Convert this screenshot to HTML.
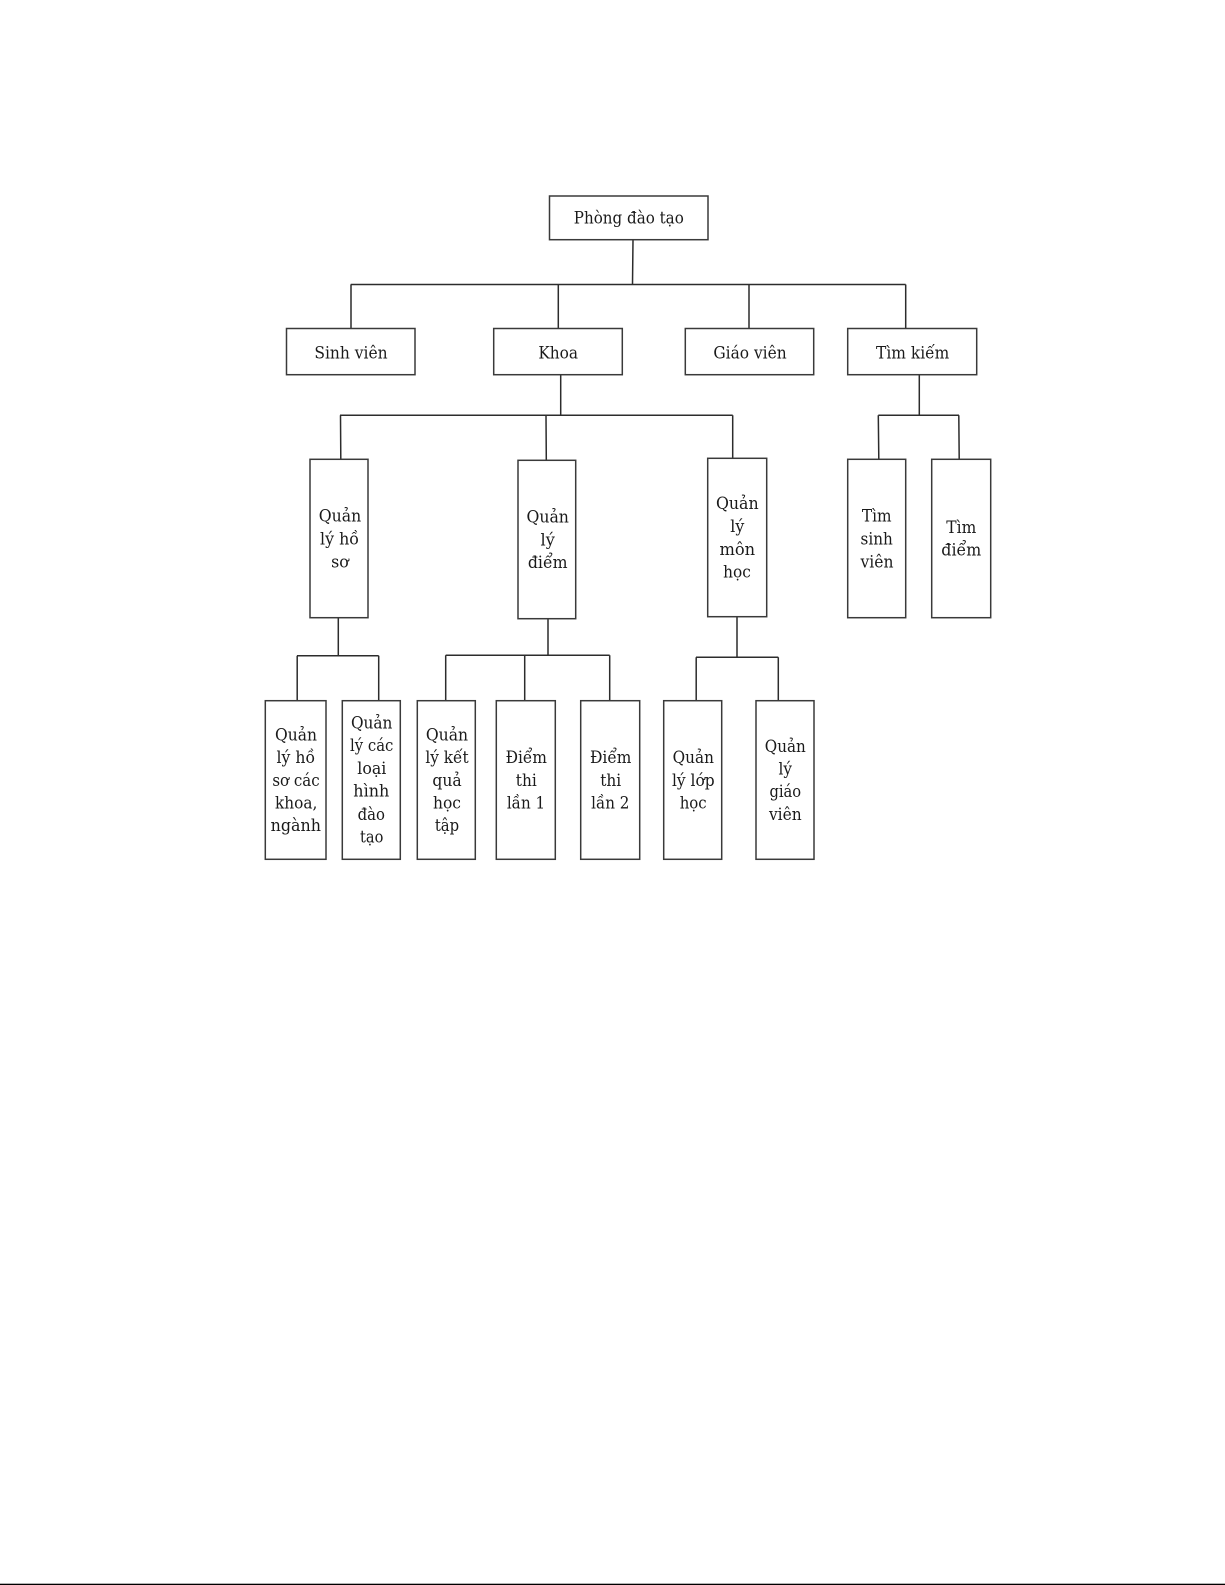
<!DOCTYPE html>
<html lang="vi">
<head>
<meta charset="utf-8">
<title>Phòng đào tạo</title>
<style>
html,body{margin:0;padding:0;background:#fff;width:1225px;height:1585px;overflow:hidden}
svg{display:block}
rect{fill:#fff;stroke:#3a3a3a;stroke-width:1.5}
path{fill:none;stroke:#2c2c2c;stroke-width:1.5}
text{font-family:"DejaVu Serif","Liberation Serif",serif;font-size:17px;fill:#1a1a1a;text-anchor:middle}
</style>
</head>
<body>
<svg width="1225" height="1585" viewBox="0 0 1225 1585" xmlns="http://www.w3.org/2000/svg">
<path d="M633 240L632.5 284.5M350.7 284.5H905.7M351 284.5V328.5M558.3 284.5V328.5M749 284.5V328.5M905.7 284.5V328.5"/>
<path d="M560.7 375V415.3M340 415.3H732.7M340.5 415.3L340.8 459.3M546 415.3L546.3 460M732.7 415.3V458"/>
<path d="M919.3 375V415.3M878.3 415.3H959M878.3 415.3L878.8 459M958.8 415.3L959.2 459"/>
<path d="M338.3 618V655.7M297 655.7H378.7M297.2 655.7V700.7M378.7 655.7V700.7"/>
<path d="M548 619V655M445.7 655.3H609.7M445.7 655.3V700.7M524.7 655.3V700.7M609.7 655.3V700.7"/>
<path d="M737 617V657.3M696 657.3H778.3M696.2 657.3V700.7M778.3 657.3V700.7"/>

<rect x="549.5" y="196" width="158.5" height="43.7"/>
<rect x="286.5" y="328.5" width="128.5" height="46.2"/>
<rect x="493.7" y="328.5" width="128.6" height="46.2"/>
<rect x="685.3" y="328.5" width="128.4" height="46.2"/>
<rect x="847.7" y="328.5" width="129" height="46.2"/>
<rect x="310" y="459.3" width="58" height="158.4"/>
<rect x="518" y="460.3" width="57.7" height="158.4"/>
<rect x="707.7" y="458.3" width="59" height="158.4"/>
<rect x="847.7" y="459.3" width="58" height="158.4"/>
<rect x="931.7" y="459.3" width="59" height="158.4"/>
<rect x="265.3" y="700.7" width="60.7" height="158.6"/>
<rect x="342.3" y="700.7" width="58" height="158.6"/>
<rect x="417.3" y="700.7" width="58" height="158.6"/>
<rect x="496.3" y="700.7" width="59" height="158.6"/>
<rect x="580.7" y="700.7" width="59" height="158.6"/>
<rect x="663.7" y="700.7" width="58" height="158.6"/>
<rect x="756" y="700.7" width="58" height="158.6"/>

<g transform="translate(0,-0.8)">
<text x="628.8" y="224.3" textLength="110" lengthAdjust="spacingAndGlyphs">Phòng đào tạo</text>
<text x="351" y="359.3" textLength="73.3" lengthAdjust="spacingAndGlyphs">Sinh viên</text>
<text x="558.2" y="359.3" textLength="39.7" lengthAdjust="spacingAndGlyphs">Khoa</text>
<text x="750" y="359.3" textLength="73.3" lengthAdjust="spacingAndGlyphs">Giáo viên</text>
<text x="912.7" y="359.3" textLength="73.3" lengthAdjust="spacingAndGlyphs">Tìm kiếm</text>

<text x="340" y="522.3" textLength="42.5" lengthAdjust="spacingAndGlyphs">Quản</text>
<text x="339.5" y="545.3" textLength="39" lengthAdjust="spacingAndGlyphs">lý hồ</text>
<text x="340" y="568.3" textLength="17.7" lengthAdjust="spacingAndGlyphs">sơ</text>

<text x="547.7" y="523.3" textLength="42.5" lengthAdjust="spacingAndGlyphs">Quản</text>
<text x="547.7" y="546.3" textLength="14.3" lengthAdjust="spacingAndGlyphs">lý</text>
<text x="547.7" y="569" textLength="39.7" lengthAdjust="spacingAndGlyphs">điểm</text>

<text x="737.3" y="510" textLength="42.7" lengthAdjust="spacingAndGlyphs">Quản</text>
<text x="737.3" y="532.7" textLength="14" lengthAdjust="spacingAndGlyphs">lý</text>
<text x="737.3" y="555.7" textLength="35.7" lengthAdjust="spacingAndGlyphs">môn</text>
<text x="737" y="578.3" textLength="27.7" lengthAdjust="spacingAndGlyphs">học</text>

<text x="876.7" y="522.3" textLength="29.7" lengthAdjust="spacingAndGlyphs">Tìm</text>
<text x="876.7" y="545.3" textLength="32.3" lengthAdjust="spacingAndGlyphs">sinh</text>
<text x="877" y="568.3" textLength="33" lengthAdjust="spacingAndGlyphs">viên</text>

<text x="961.3" y="533.7" textLength="30" lengthAdjust="spacingAndGlyphs">Tìm</text>
<text x="961.3" y="556.3" textLength="40" lengthAdjust="spacingAndGlyphs">điểm</text>

<text x="296" y="741.3" textLength="42" lengthAdjust="spacingAndGlyphs">Quản</text>
<text x="295.8" y="764" textLength="38.5" lengthAdjust="spacingAndGlyphs">lý hồ</text>
<text x="296" y="786.7" textLength="47.3" lengthAdjust="spacingAndGlyphs">sơ các</text>
<text x="296.2" y="809.3" textLength="42.3" lengthAdjust="spacingAndGlyphs">khoa,</text>
<text x="295.8" y="832" textLength="50.3" lengthAdjust="spacingAndGlyphs">ngành</text>

<text x="371.7" y="729.3" textLength="41.5" lengthAdjust="spacingAndGlyphs">Quản</text>
<text x="371.7" y="752" textLength="43.3" lengthAdjust="spacingAndGlyphs">lý các</text>
<text x="371.8" y="774.7" textLength="29" lengthAdjust="spacingAndGlyphs">loại</text>
<text x="371.3" y="797.3" textLength="36" lengthAdjust="spacingAndGlyphs">hình</text>
<text x="371.3" y="820.7" textLength="27.3" lengthAdjust="spacingAndGlyphs">đào</text>
<text x="371.7" y="843.3" textLength="23.3" lengthAdjust="spacingAndGlyphs">tạo</text>

<text x="447" y="741.3" textLength="42.3" lengthAdjust="spacingAndGlyphs">Quản</text>
<text x="447" y="764" textLength="43.3" lengthAdjust="spacingAndGlyphs">lý kết</text>
<text x="447" y="786.7" textLength="29.3" lengthAdjust="spacingAndGlyphs">quả</text>
<text x="447" y="809.3" textLength="28" lengthAdjust="spacingAndGlyphs">học</text>
<text x="447" y="832" textLength="24.3" lengthAdjust="spacingAndGlyphs">tập</text>

<text x="526.3" y="764" textLength="41.3" lengthAdjust="spacingAndGlyphs">Điểm</text>
<text x="526.3" y="786.7" textLength="21" lengthAdjust="spacingAndGlyphs">thi</text>
<text x="526" y="809.3" textLength="38.3" lengthAdjust="spacingAndGlyphs">lần 1</text>

<text x="610.7" y="764" textLength="41.5" lengthAdjust="spacingAndGlyphs">Điểm</text>
<text x="610.7" y="786.7" textLength="21" lengthAdjust="spacingAndGlyphs">thi</text>
<text x="610.3" y="809.3" textLength="38.3" lengthAdjust="spacingAndGlyphs">lần 2</text>

<text x="693.3" y="764" textLength="41.3" lengthAdjust="spacingAndGlyphs">Quản</text>
<text x="693.3" y="786.7" textLength="42.7" lengthAdjust="spacingAndGlyphs">lý lớp</text>
<text x="693.2" y="809.3" textLength="27" lengthAdjust="spacingAndGlyphs">học</text>

<text x="785.3" y="752.7" textLength="41" lengthAdjust="spacingAndGlyphs">Quản</text>
<text x="785.3" y="775.3" textLength="13.5" lengthAdjust="spacingAndGlyphs">lý</text>
<text x="785.3" y="798" textLength="31.7" lengthAdjust="spacingAndGlyphs">giáo</text>
<text x="785.3" y="821" textLength="32.7" lengthAdjust="spacingAndGlyphs">viên</text>
</g>

<rect x="0" y="1583.7" width="1225" height="1.3" style="fill:#000;stroke:none"/>
</svg>
</body>
</html>
